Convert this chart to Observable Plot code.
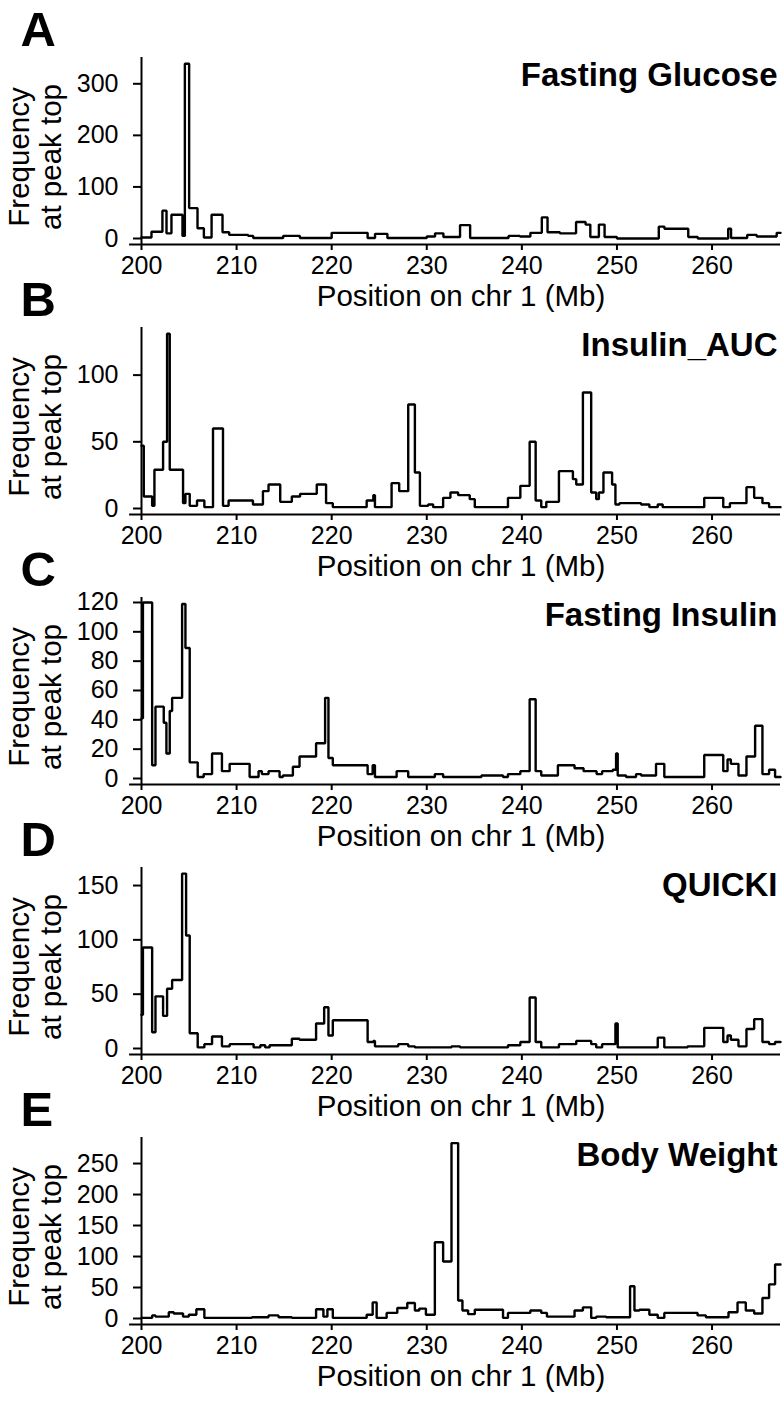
<!DOCTYPE html>
<html>
<head>
<meta charset="utf-8">
<script src="https://cdn.jsdelivr.net/npm/d3@7"></script>
<script src="https://cdn.jsdelivr.net/npm/@observablehq/plot@0.6"></script>
<style>
  html, body { margin: 0; padding: 0; background: #fff; }
  #root { position: relative; width: 783px; height: 1405px; overflow: hidden; font-family: "Liberation Sans", Arial, Helvetica, sans-serif; }
  .panel { position: absolute; left: 0; width: 783px; }
  .panel svg { overflow: visible; }
</style>
</head>
<body>
<div id="root"></div>
<script>
// ---------- data ----------
const xTicks = [200, 210, 220, 230, 240, 250, 260];
const xLabel = "Position on chr 1 (Mb)";
const yLabel = "Frequency\nat peak top";

const letters = ["A", "B", "C", "D", "E"];
const titles = ["Fasting Glucose", "Insulin_AUC", "Fasting Insulin", "QUICKI", "Body Weight"];

const yTicksA = [0, 100, 200, 300];
const yTicksB = [0, 50, 100];
const yTicksC = [0, 20, 40, 60, 80, 100, 120];
const yTicksD = [0, 50, 100, 150];
const yTicksE = [0, 50, 100, 150, 200, 250];
const yMaxes = [351, 135.7, 123.4, 166.6, 292];

// A: Fasting Glucose (bin start position in Mb, frequency)
const posA = [200, 201.05, 202.2, 202.63, 203.15, 204.31, 204.56, 205.01, 205.89, 206.56, 207.37, 208.52, 209.22, 211.22, 211.75, 214.9, 216.66, 220.0, 223.78, 224.56, 225.86, 230.0, 230.87, 231.75, 233.5, 234.56, 238.6, 239.8, 240.9, 242.1, 242.7, 244.0, 245.7, 246.7, 247.2, 248.1, 248.7, 250.0, 254.4, 255.0, 257.5, 258.5, 261.7, 262.0, 263.7, 264.7, 266.8, 267.2];
const freqA = [2, 13, 54, 10, 46, 5, 339, 59, 20, 2, 46, 12, 7, 5, 1, 5, 1, 11, 1, 9, 1, 4, 10, 3, 26, 1, 5, 4, 11, 41, 12, 10, 32, 27, 3, 27, 3, 0, 23, 19, 3, 0, 19, 1, 7, 4, 11, 11];

// B: Insulin_AUC
const posB = [200, 200.24, 201.12, 201.36, 202.27, 202.69, 202.97, 204.37, 204.62, 205.07, 205.84, 206.61, 207.52, 208.57, 209.16, 211.72, 212.77, 213.36, 214.59, 215.81, 216.68, 218.43, 219.41, 220.12, 223.68, 224.38, 224.55, 226.3, 227.1, 228.05, 228.75, 229.28, 230.15, 230.67, 231.72, 232.49, 233.3, 234.52, 235.05, 238.54, 239.84, 240.82, 241.45, 242.04, 242.57, 243.9, 245.37, 245.72, 246.42, 247.29, 247.82, 248.1, 248.58, 249.49, 249.84, 250.26, 252.54, 253.41, 254.29, 254.81, 259.18, 261.18, 261.88, 263.62, 264.43, 265.3, 266.0, 267.2];
const freqB = [47, 9, 2, 29, 50, 131, 29, 4, 11, 2, 6, 1, 60, 2, 6, 3, 13, 18, 5, 9, 11, 18, 4, 1, 6, 10, 1, 19, 13, 78, 27, 2, 3, 1, 8, 12, 10, 7, 1, 8, 17, 50, 6, 1, 5, 28, 22, 18, 87, 12, 7, 12, 27, 18, 3, 4, 3, 1, 3, 1, 8, 1, 4, 16, 8, 4, 1, 1];

// C: Fasting Insulin
const posC = [200, 200.15, 201.12, 201.47, 202.34, 202.62, 202.97, 203.22, 204.27, 204.62, 205.07, 205.91, 206.54, 207.42, 208.46, 209.27, 211.37, 212.31, 212.66, 213.36, 214.52, 214.87, 215.92, 216.62, 218.36, 219.31, 219.66, 220.12, 223.78, 224.31, 224.55, 226.83, 228.05, 230.85, 231.72, 235.75, 238.02, 238.54, 239.84, 240.82, 241.45, 242.04, 243.79, 245.54, 246.49, 247.86, 248.44, 249.56, 249.91, 250.08, 250.96, 252.01, 252.54, 254.11, 254.98, 259.18, 261.18, 261.63, 261.98, 262.78, 263.62, 264.53, 265.3, 266.0, 266.63, 267.2];
const freqC = [41, 120, 9, 49, 38, 17, 46, 55, 119, 89, 11, 1, 3, 17, 5, 10, 1, 5, 3, 5, 1, 2, 8, 15, 24, 55, 14, 9, 3, 9, 1, 5, 1, 3, 1, 2, 1, 3, 5, 54, 5, 2, 9, 7, 5, 3, 5, 6, 17, 2, 1, 3, 2, 10, 1, 16, 5, 13, 10, 2, 15, 36, 3, 6, 1, 1];

// D: QUICKI
const posD = [200, 200.15, 201.12, 201.47, 202.27, 202.69, 203.22, 204.27, 204.69, 205.07, 205.91, 206.61, 207.42, 208.46, 209.27, 211.79, 212.49, 213.01, 213.47, 215.81, 216.62, 218.36, 219.21, 219.66, 220.12, 223.78, 224.38, 224.55, 227.0, 228.05, 228.75, 232.6, 233.5, 238.54, 239.84, 240.82, 241.45, 242.04, 243.9, 245.72, 247.29, 247.82, 248.44, 249.84, 250.08, 254.29, 254.98, 257.43, 259.18, 261.18, 261.63, 261.98, 262.78, 263.62, 264.43, 265.3, 266.0, 266.63, 267.2];
const freqD = [31, 93, 15, 48, 30, 55, 63, 161, 104, 14, 1, 4, 11, 2, 4, 1, 3, 1, 3, 9, 8, 23, 38, 12, 26, 6, 7, 2, 4, 2, 1, 2, 1, 3, 6, 47, 6, 1, 4, 7, 4, 1, 4, 23, 1, 10, 1, 2, 19, 6, 12, 8, 2, 18, 27, 6, 4, 6, 6];

// E: Body Weight
const posE = [200, 201.12, 201.47, 202.87, 203.39, 204.37, 204.97, 205.77, 206.61, 211.61, 213.36, 214.41, 215.81, 218.36, 219.13, 219.55, 220.12, 223.68, 224.31, 224.73, 225.78, 226.9, 227.95, 228.75, 229.21, 229.91, 230.85, 231.72, 232.6, 233.3, 233.75, 234.35, 235.05, 238.02, 238.54, 240.89, 242.04, 242.64, 245.54, 246.42, 247.29, 247.82, 248.86, 251.38, 251.84, 252.36, 253.41, 254.29, 254.98, 258.48, 259.36, 261.73, 262.68, 263.55, 264.43, 265.3, 266.0, 266.63, 267.2];
const freqE = [1, 5, 3, 10, 8, 3, 6, 15, 1, 2, 5, 2, 1, 15, 3, 15, 1, 6, 26, 1, 9, 17, 25, 13, 16, 6, 123, 92, 283, 29, 13, 7, 14, 1, 9, 13, 9, 3, 13, 18, 1, 3, 2, 52, 13, 14, 6, 1, 9, 5, 2, 10, 26, 13, 8, 33, 55, 87, 87];

// ---------- drawing ----------
const series = [
  [posA, freqA, yTicksA],
  [posB, freqB, yTicksB],
  [posC, freqC, yTicksC],
  [posD, freqD, yTicksD],
  [posE, freqE, yTicksE]
];

const FONT = '"Liberation Sans", Arial, Helvetica, sans-serif';
const root = document.getElementById("root");
const panelStep = 270;
const H = 320, MT = 57, MB = 76, ML = 141, MR = 3;
const plotH = H - MT - MB;        // 187
const zeroGap = 6;                // px between y = 0 and the x axis line

series.forEach(([pos, freq, yTicks], k) => {
  const data = pos.map((p, i) => ({pos: p, freq: freq[i]}));
  const yMax = yMaxes[k];
  const yMin = -yMax * zeroGap / (plotH - zeroGap);
  const chart = Plot.plot({
    width: 783,
    height: H,
    marginTop: MT,
    marginBottom: MB,
    marginLeft: ML,
    marginRight: MR,
    style: {fontFamily: FONT, fontSize: "24px", color: "#000", background: "transparent", overflow: "visible"},
    x: {domain: [200, 267.2]},
    y: {domain: [yMin, yMax]},
    marks: [
      Plot.axisX({ticks: xTicks, tickSize: 6, tickPadding: 6, strokeWidth: 2, label: null, fontSize: 25, tickFormat: d => String(d)}),
      Plot.axisY({ticks: yTicks, tickSize: 8, tickPadding: 15, strokeWidth: 2, label: null, fontSize: 25, tickFormat: d => String(d)}),
      Plot.ruleY([yMin], {x1: 198.75, x2: 267.2, stroke: "black", strokeWidth: 2}),
      Plot.ruleX([200], {y1: yMin, y2: yMax, stroke: "black", strokeWidth: 2}),
      Plot.line(data, {x: "pos", y: "freq", curve: "step-after", stroke: "black", strokeWidth: 2.4, strokeLinejoin: "miter"}),
      Plot.text([xLabel], {frameAnchor: "bottom", dy: 52, lineAnchor: "middle", fontSize: 29.5}),
      Plot.text([yLabel], {frameAnchor: "left", rotate: -90, dx: -107, dy: 6, lineAnchor: "middle", textAnchor: "middle", fontSize: 29.5, lineHeight: 1.08}),
      Plot.text([letters[k]], {frameAnchor: "top-left", textAnchor: "start", lineAnchor: "top", dx: -121, dy: -46, fontSize: 49, fontWeight: "bold"}),
      Plot.text([titles[k]], {frameAnchor: "top-right", textAnchor: "end", lineAnchor: "middle", dx: -3, dy: 18, fontSize: 33, fontWeight: "bold"})
    ]
  });
  const div = document.createElement("div");
  div.className = "panel";
  div.style.top = (panelStep * k) + "px";
  div.appendChild(chart);
  root.appendChild(div);
});
</script>
</body>
</html>
